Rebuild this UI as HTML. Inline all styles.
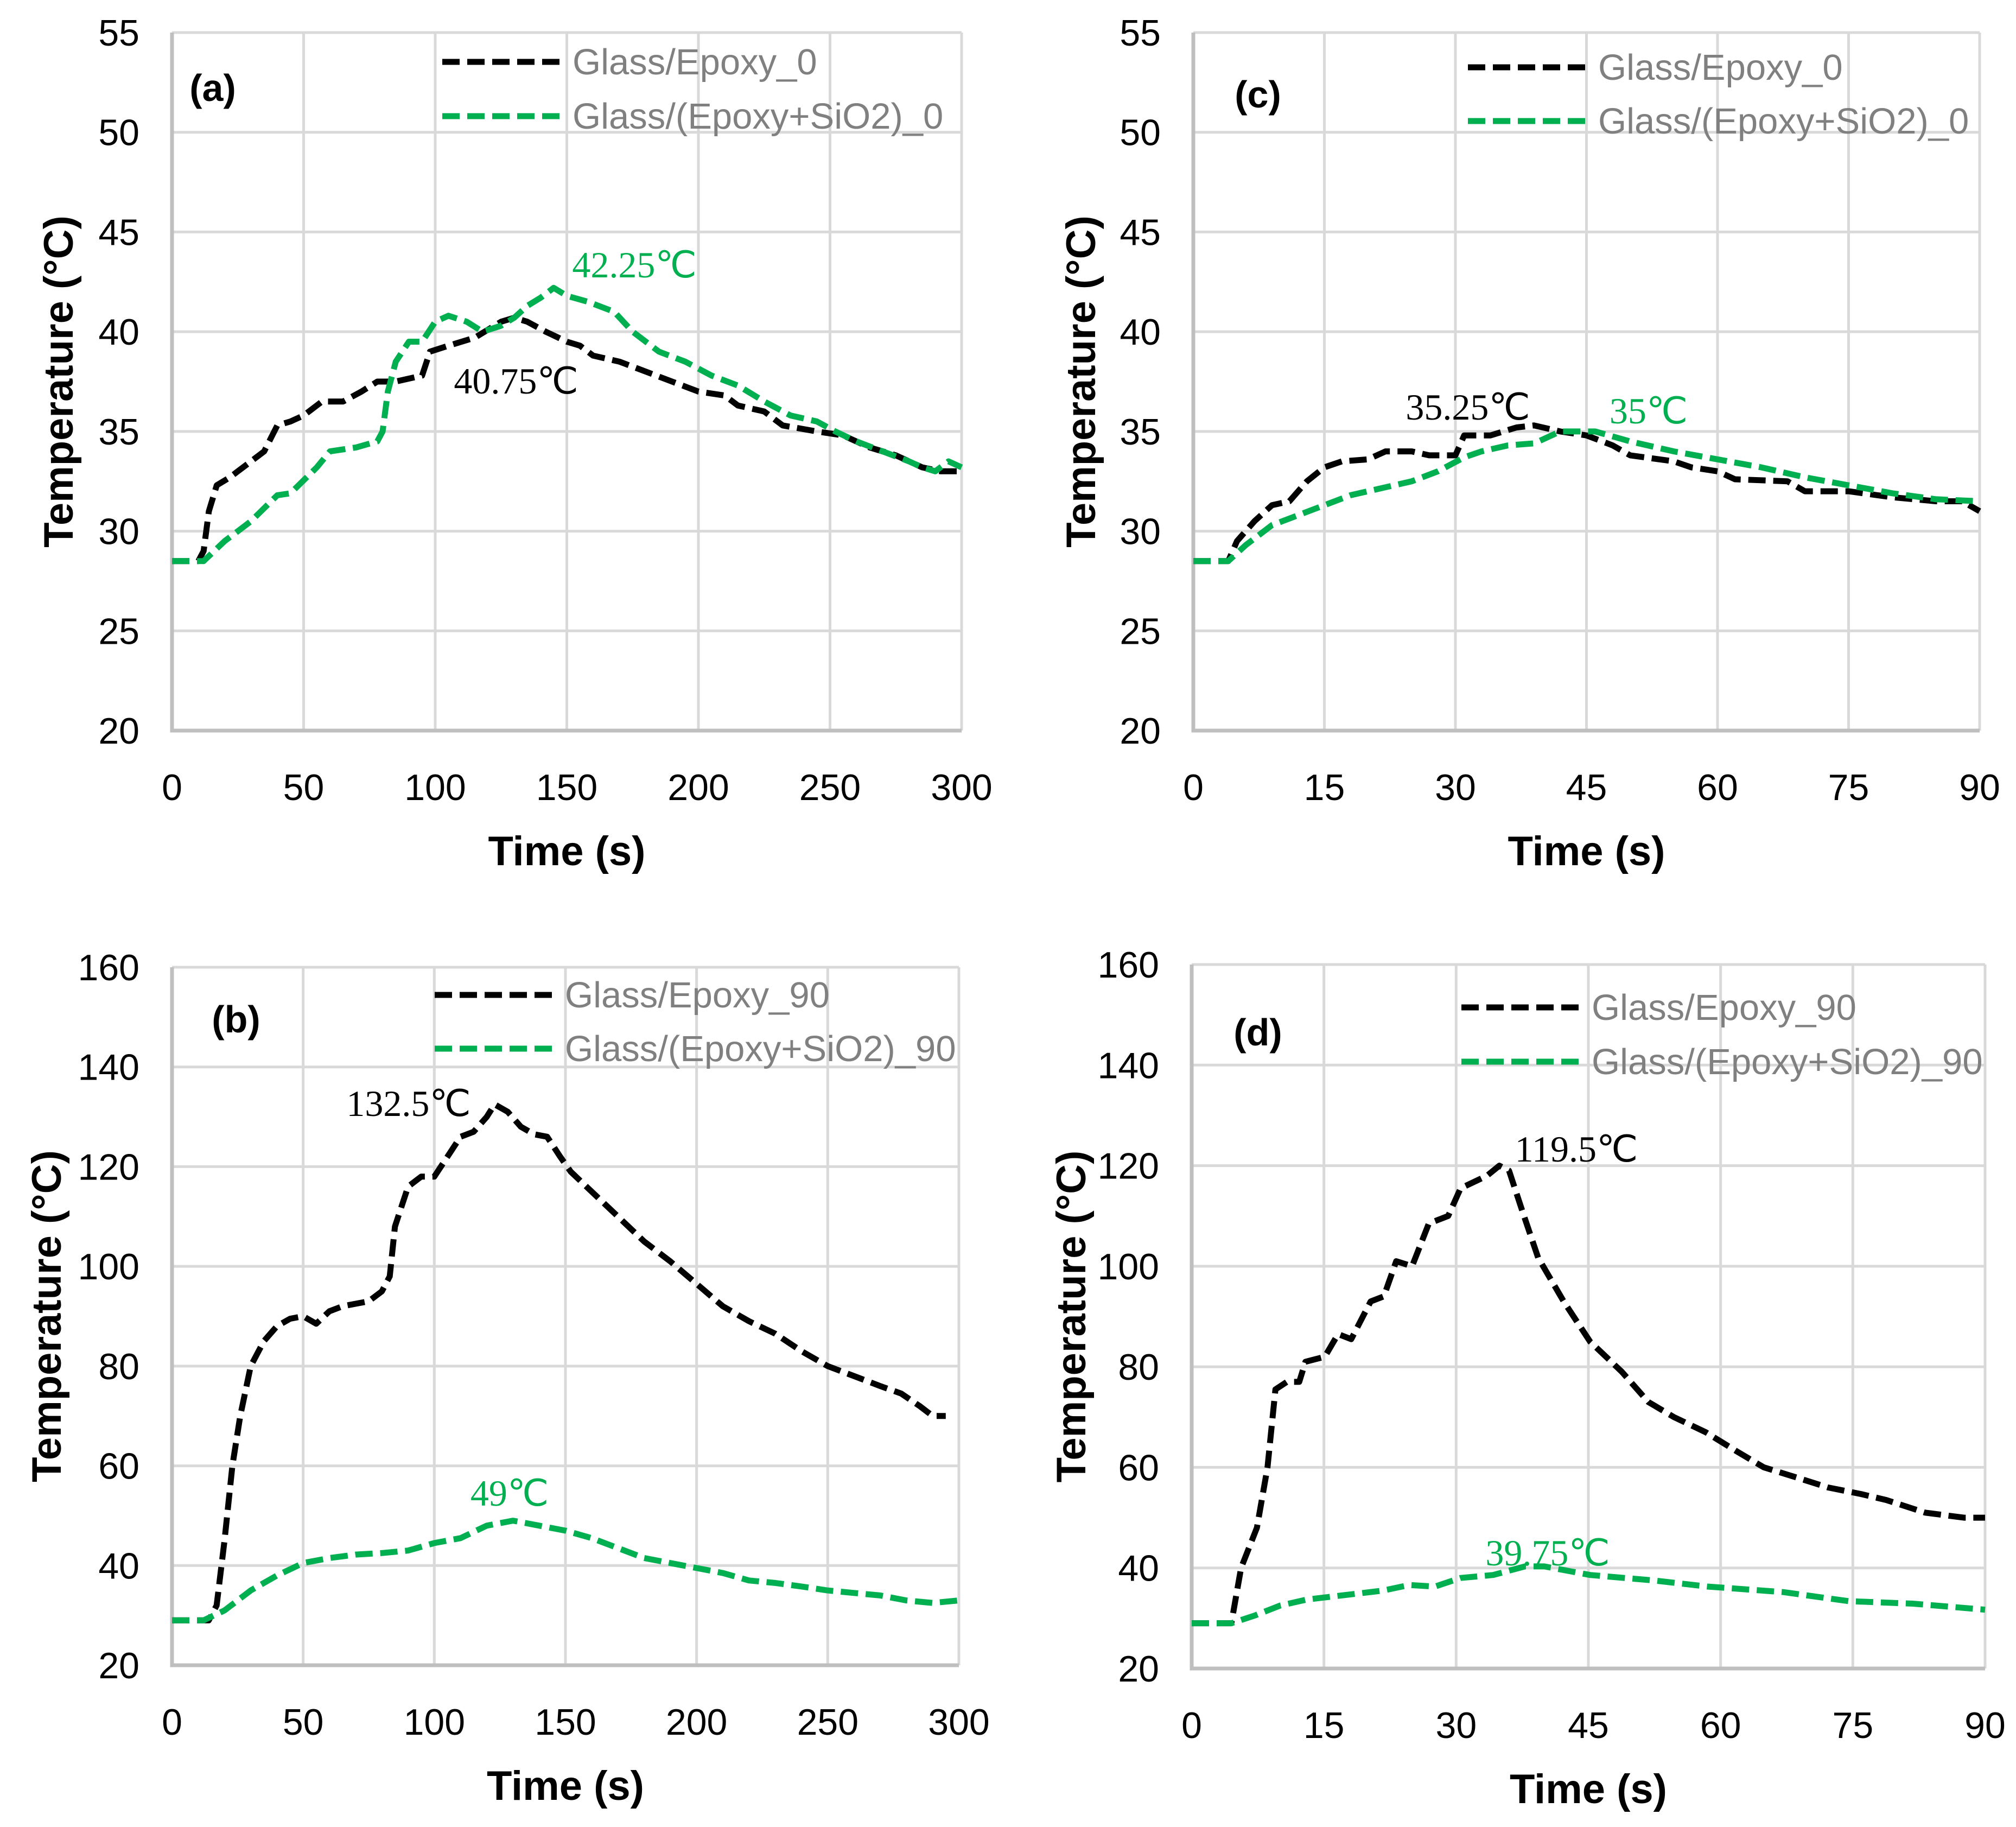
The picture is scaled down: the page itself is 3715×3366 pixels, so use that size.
<!DOCTYPE html>
<html><head><meta charset="utf-8"><style>
html,body{margin:0;padding:0;background:#fff;}
svg{display:block;}
</style></head><body>
<svg id="fig" width="3715" height="3366" viewBox="0 0 3715 3366" xmlns="http://www.w3.org/2000/svg"></svg>
<script>
// ---- data ----
const aTime = [0,10,12,14,17,22,25,30,35,40,45,50,57,65,72,78,85,95,98,105,115,125,130,135,142,150,155,160,170,180,190,200,210,215,225,232,245,255,265,275,285,292,300];
const aEpoxy = [28.5,28.5,29,31,32.3,32.7,33,33.5,34,35.3,35.5,35.8,36.5,36.5,37,37.5,37.5,37.8,39,39.3,39.7,40.5,40.7,40.5,40,39.5,39.3,38.8,38.5,38,37.5,37,36.8,36.3,36,35.3,35,34.8,34.2,33.8,33.2,33,33];
const aTimeS = [0,12,20,25,30,40,45,55,60,70,78,80,82,85,90,95,100,105,112,118,125,130,135,140,145,150,158,168,175,185,195,205,215,225,235,245,252,260,270,280,285,290,295,300];
const aSilica = [28.5,28.5,29.5,30,30.5,31.8,31.9,33.2,34,34.2,34.5,35,37,38.5,39.5,39.5,40.5,40.8,40.5,40,40.3,40.7,41.3,41.7,42.2,41.8,41.5,41,40,39,38.5,37.8,37.3,36.5,35.8,35.5,35,34.5,34,33.5,33.2,33,33.5,33.2];

const bTime = [0,8,14,17,20,23,26,30,35,40,45,50,55,60,65,70,75,80,83,85,90,95,100,105,110,115,120,123,128,133,138,143,148,152,160,170,180,190,200,210,220,230,240,250,260,270,278,285,290,295];
const bEpoxy = [29,29,29,32,45,60,70,80,85,88,89.5,90,88.5,91,92,92.5,93,95,98,108,116,118,118,122,126,127,130,132.5,131,128,126.5,126,122,119,115,110,105,101,96.5,92,89,86.5,83,80,78,76,74.5,72,70,70];
const bTimeS = [0,12,20,30,40,50,60,70,80,90,100,110,120,130,140,150,160,170,180,190,200,210,220,230,240,250,260,270,280,290,300];
const bSilica = [29,29,31,35,38,40.5,41.5,42.2,42.5,43,44.5,45.5,48,49,48,47,45.5,43.5,41.5,40.5,39.5,38.5,37,36.5,35.8,35,34.5,34,33,32.5,33];

const cTime = [0,4,5,7,9,11,13,15,17,20,22,25,27,30,31,34,37,39,42,45,48,50,55,57,60,62,68,70,75,80,85,88,90];
const cEpoxy = [28.5,28.5,29.5,30.5,31.3,31.5,32.5,33.2,33.5,33.6,34,34,33.8,33.8,34.8,34.8,35.2,35.3,35,34.8,34.3,33.8,33.5,33.2,33,32.6,32.5,32,32,31.7,31.5,31.5,31];
const cTimeS = [0,4,6,9,12,15,18,22,25,28,31,33,36,39,42,46,50,55,60,65,70,75,80,85,90];
const cSilica = [28.5,28.5,29.3,30.3,30.8,31.3,31.8,32.2,32.5,33,33.7,34,34.3,34.4,35,35,34.5,34,33.6,33.2,32.7,32.3,31.9,31.6,31.5];

const dTime = [0,4.5,5.6,7.4,8.6,9.5,10.8,12.2,12.9,15.1,16.6,18.1,20.3,21.8,23.2,25,26.9,29.1,30.5,33.5,34.9,36,37.5,39.3,42.2,45.2,48.8,51.8,54.7,58.3,62,64.9,68.6,72.2,75.9,78.8,83.2,87.6,90];
const dEpoxy = [29,29,40,48,60,75.5,77,77,81,82,86.5,85.5,93,94,101,100,108.5,110,115.5,118,120,119,111,101.7,93,85,79,73,70,67,63,60,58,56,54.7,53.5,51,50,50];
const dTimeS = [0,4.5,7.1,10,13,15.9,21.7,24.7,27.6,30.5,34.2,37.8,40,45.2,52.5,58.5,67.1,74.5,81.8,90];
const dSilica = [29,29,30.5,32.5,33.7,34.3,35.5,36.6,36.3,38,38.6,40.3,40.3,38.6,37.5,36.3,35.2,33.4,32.9,31.7];

const ticksX300 = [0,50,100,150,200,250,300];
const ticksX90 = [0,15,30,45,60,75,90];
const ticksY55 = [20,25,30,35,40,45,50,55];
const ticksY160 = [20,40,60,80,100,120,140,160];

const NS = "http://www.w3.org/2000/svg";
const svg = document.getElementById('fig');
const GREEN = "#00b050";
function mk(tag, attrs, parent){
  const e = document.createElementNS(NS, tag);
  for (const k in attrs) e.setAttribute(k, attrs[k]);
  (parent||svg).appendChild(e);
  return e;
}
function panel(p){
  const g = mk('g', {});
  
  
  const xs = v => p.x0 + (v - p.xt[0])/(p.xt[p.xt.length-1]-p.xt[0])*(p.x1-p.x0);
  const ys = v => p.y1 - (v - p.yt[0])/(p.yt[p.yt.length-1]-p.yt[0])*(p.y1-p.y0);
  p.xt.forEach(t=>{
    const l = mk('line',{x1:xs(t),x2:xs(t),y1:p.y0,y2:p.y1,stroke:"#d9d9d9","stroke-width":5},g);
    
    
    const tx = mk('text',{x:xs(t),y:p.y1+128,"text-anchor":"middle","font-size":68,"font-family":"Liberation Sans, sans-serif",fill:"#000"},g);
    tx.textContent = t;
    
    
  });
  p.yt.forEach(t=>{
    const l = mk('line',{x1:p.x0,x2:p.x1,y1:ys(t),y2:ys(t),stroke:"#d9d9d9","stroke-width":5},g);
    
    
    const tx = mk('text',{x:p.x0-60,y:ys(t)+24,"text-anchor":"end","font-size":68,"font-family":"Liberation Sans, sans-serif",fill:"#000"},g);
    tx.textContent = t;
    
    
  });
  const ax = mk('path',{d:`M${p.x0},${p.y0} L${p.x0},${p.y1} L${p.x1},${p.y1}`,fill:"none",stroke:"#bfbfbf","stroke-width":7},g);
  
  
  const series = [[p.t1,p.v1,"#000",'series-glass-epoxy'],[p.t2,p.v2,GREEN,'series-glass-epoxy-sio2']];
  series.forEach(s=>{
    const pts = s[0].map((t,i)=>xs(t).toFixed(1)+","+ys(s[1][i]).toFixed(1)).join(" ");
    const pl = mk('polyline',{points:pts,fill:"none",stroke:s[2],"stroke-width":11,"stroke-dasharray":"32 14","stroke-linejoin":"round"},g);
    
    
  });
  [[p.leg[1],"#000",p.names[0]],[p.leg[2],GREEN,p.names[1]]].forEach((L,i)=>{
    const ln = mk('line',{x1:p.leg[0],x2:p.leg[0]+222,y1:L[0],y2:L[0],stroke:L[1],"stroke-width":11,"stroke-dasharray":"32 14"},g);
    
    
    const tx = mk('text',{x:p.leg[0]+240,y:L[0]+23,"font-size":67,"font-family":"Liberation Sans, sans-serif",fill:"#808080"},g);
    tx.textContent = L[2];
    
    
  });
  const pl = mk('text',{x:p.lab[0],y:p.lab[1]+24,"text-anchor":"middle","font-size":70,"font-weight":"bold","font-family":"Liberation Sans, sans-serif"},g);
  pl.textContent = "(" + p.id + ")";
  
  
  p.ann.forEach(a=>{
    const tx = mk('text',{x:a[0],y:a[1]+24,"text-anchor":"middle","font-size":68,"font-family":"Liberation Serif, serif",fill:a[2]},g);
    tx.textContent = a[3];
    
    
  });
  const xt = mk('text',{x:(p.x0+p.x1)/2,y:p.y1+248,"text-anchor":"middle","font-size":76,"font-weight":"bold","font-family":"Liberation Sans, sans-serif"},g);
  xt.textContent = "Time (s)";
  
  
  const cy = (p.y0+p.y1)/2;
  const yt = mk('text',{x:0,y:0,transform:`translate(${p.ytx},${cy}) rotate(-90)`,"text-anchor":"middle","font-size":76,"font-weight":"bold","font-family":"Liberation Sans, sans-serif"},g);
  yt.textContent = "Temperature (°C)";
  
  
}
panel({id:'a',x0:317,x1:1772,y0:60,y1:1346,xt:ticksX300,yt:ticksY55,t1:aTime,v1:aEpoxy,t2:aTimeS,v2:aSilica,
  leg:[815,114,214],names:["Glass/Epoxy_0","Glass/(Epoxy+SiO2)_0"],lab:[392,162],ytx:134,
  ann:[[1169,487,GREEN,"42.25℃"],[951,701,"#000","40.75℃"]]});
panel({id:'c',x0:2199,x1:3648,y0:60,y1:1346,xt:ticksX90,yt:ticksY55,t1:cTime,v1:cEpoxy,t2:cTimeS,v2:cSilica,
  leg:[2705,124,223],names:["Glass/Epoxy_0","Glass/(Epoxy+SiO2)_0"],lab:[2318,174],ytx:2018,
  ann:[[2705,749,"#000","35.25℃"],[3038,756,GREEN,"35℃"]]});
panel({id:'b',x0:317,x1:1767,y0:1782,y1:3068,xt:ticksX300,yt:ticksY160,t1:bTime,v1:bEpoxy,t2:bTimeS,v2:bSilica,
  leg:[801,1833,1932],names:["Glass/Epoxy_90","Glass/(Epoxy+SiO2)_90"],lab:[435,1878],ytx:112,
  ann:[[753,2032,"#000","132.5℃"],[939,2750,GREEN,"49℃"]]});
panel({id:'d',x0:2196,x1:3658,y0:1777,y1:3074,xt:ticksX90,yt:ticksY160,t1:dTime,v1:dEpoxy,t2:dTimeS,v2:dSilica,
  leg:[2693,1856,1956],names:["Glass/Epoxy_90","Glass/(Epoxy+SiO2)_90"],lab:[2318,1902],ytx:2000,
  ann:[[2905,2116,"#000","119.5℃"],[2852,2860,GREEN,"39.75℃"]]});
</script>
</body></html>
